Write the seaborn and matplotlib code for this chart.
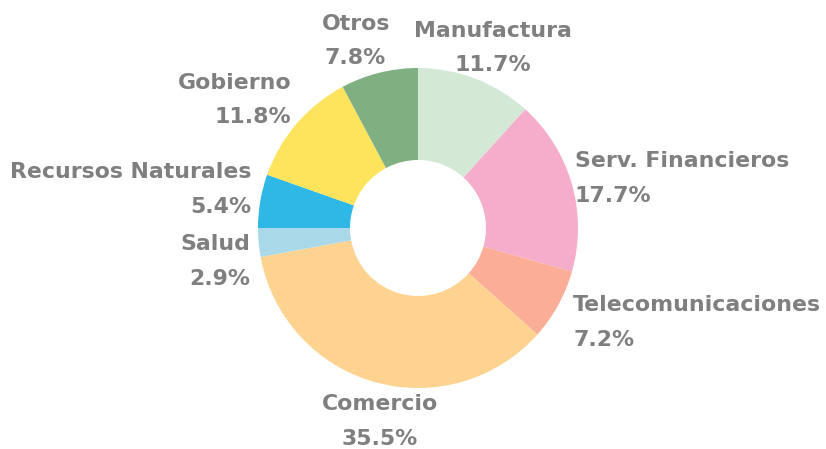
import matplotlib
matplotlib.use("Agg")
import matplotlib.pyplot as plt
import seaborn as sns
import numpy as np

# sector shares (%), clockwise from the top
sectors = ["Manufactura", "Serv. Financieros", "Telecomunicaciones", "Comercio",
           "Salud", "Recursos Naturales", "Gobierno", "Otros"]
shares = [11.7, 17.7, 7.2, 35.5, 2.9, 5.4, 11.8, 7.8]
colors = ["#d3e9d5", "#f5adcb", "#fcad98", "#fed28f",
          "#a9d8e8", "#2fb7e5", "#fee35d", "#80b081"]

# label anchors (data units, radius = 1) and alignment, picked by hand like excel's best fit
label_xy = [(0.47, 1.125), (0.98, 0.31), (0.97, -0.59), (-0.24, -1.21),
            (-1.05, -0.21), (-1.04, 0.24), (-0.79, 0.80), (-0.39, 1.17)]
label_ha = ["center", "left", "left", "center", "right", "right", "right", "center"]

sns.set_style("white")
plt.rcParams['font.family'] = ['DejaVu Sans']

fig = plt.figure(figsize=(8.26, 4.49), dpi=100)
ax = fig.add_axes([0, 0, 1, 1])

wedges, _ = ax.pie(shares, colors=colors, startangle=90, counterclock=False,
                   radius=1.0, wedgeprops=dict(width=0.575, linewidth=0))

for name, val, (x, y), ha in zip(sectors, shares, label_xy, label_ha):
    ax.text(x, y, f"{name}\n{val:.1f}%", ha=ha, va="center", multialignment=ha,
            fontsize=15.8, fontweight="bold", color="#7f7f7f", linespacing=1.9)

ax.set_xlim(-418 / 160, (826 - 418) / 160)
ax.set_ylim(-221 / 160, 228 / 160)
ax.set_aspect("equal")
ax.axis("off")

fig.savefig("out.png", dpi=100)
